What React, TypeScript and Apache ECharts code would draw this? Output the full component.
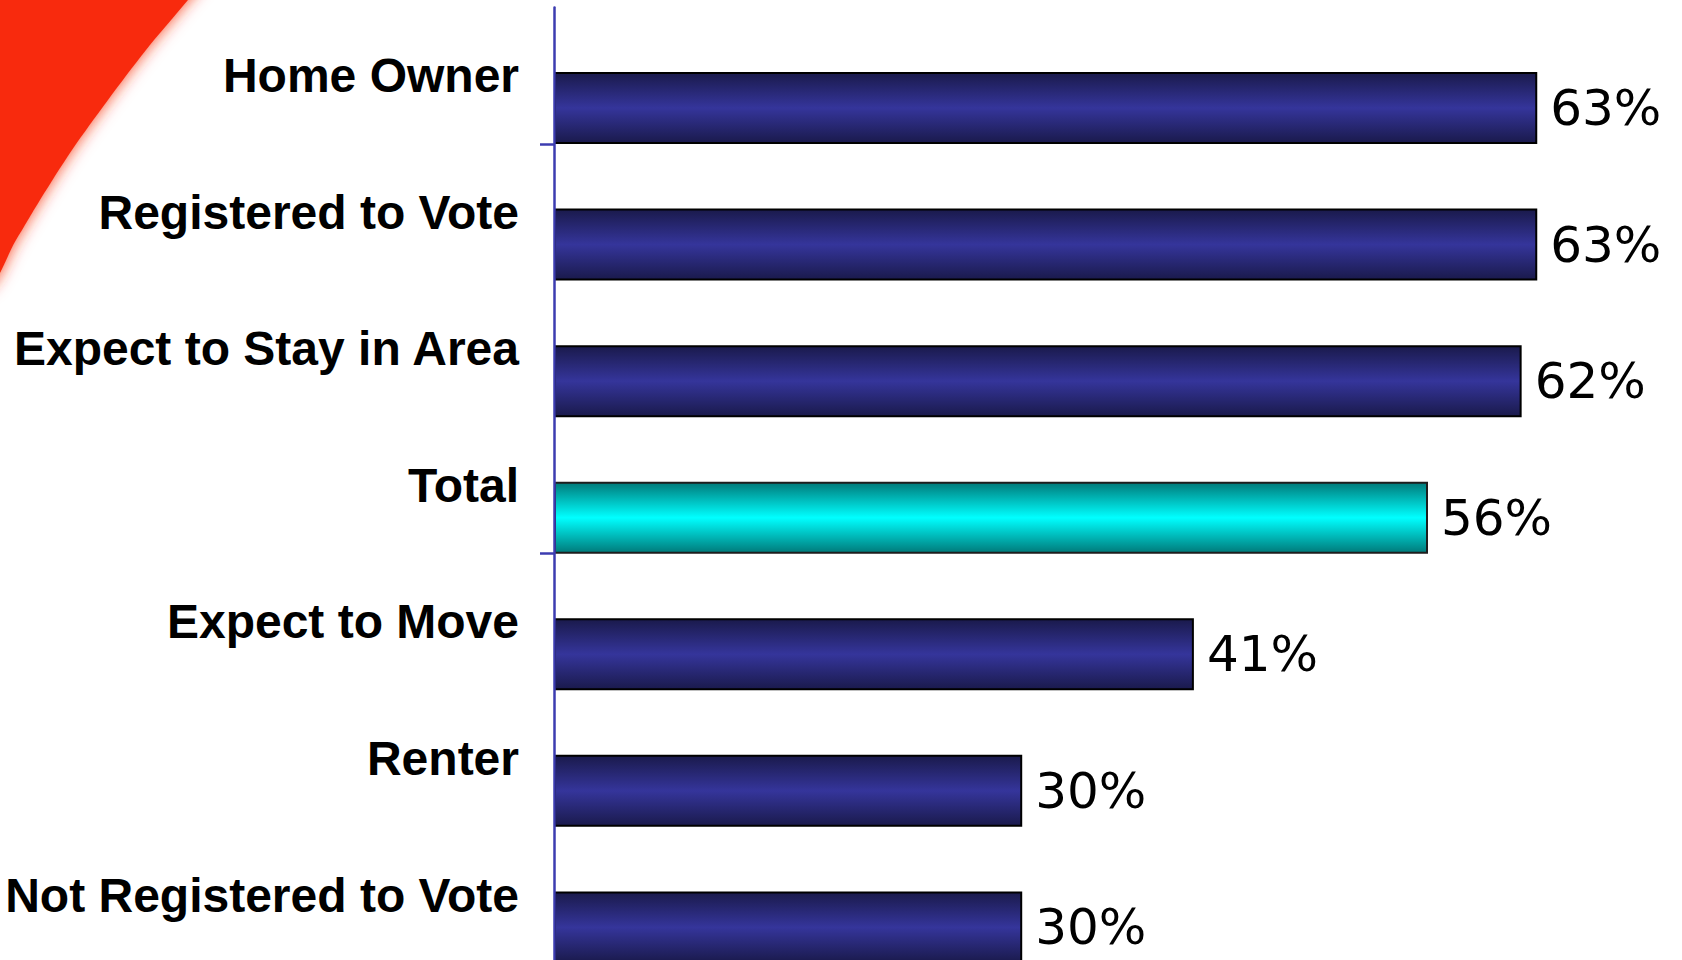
import React, { useEffect, useRef } from "react";
import * as echarts from "echarts";

const categories = [
  "Home Owner",
  "Registered to Vote",
  "Expect to Stay in Area",
  "Total",
  "Expect to Move",
  "Renter",
  "Not Registered to Vote",
];
const values = [63, 63, 62, 56, 41, 30, 30];
const highlightCategory = "Total";

const navyGradient = () =>
  new echarts.graphic.LinearGradient(0, 0, 0, 1, [
    { offset: 0, color: "#1a1a4c" },
    { offset: 0.5, color: "#35359b" },
    { offset: 1, color: "#1a1a4c" },
  ]);
const cyanGradient = () =>
  new echarts.graphic.LinearGradient(0, 0, 0, 1, [
    { offset: 0, color: "#007a7a" },
    { offset: 0.5, color: "#00ffff" },
    { offset: 1, color: "#007a7a" },
  ]);

export default function App() {
  const ref = useRef<HTMLDivElement>(null);
  useEffect(() => {
    if (!ref.current) return;
    const chart = echarts.init(ref.current, undefined, { renderer: "svg" });
    const axisLeft = 554;
    const gridTop = 7.4;
    const gridHeight = 956;
    const barShift = 32.3;
    const gridRight = 35.5;
    const option: any = {
      animation: false,
      backgroundColor: "#ffffff",
      graphic: [
        {
          type: "polygon",
          z: 0,
          shape: {
            points: [
              [-100, -100],
              [270, -100],
              [230, -50],
              [188, 0],
              [146, 50],
              [108, 100],
              [72, 150],
              [40, 200],
              [16, 240],
              [-15, 290],
              [-100, 290],
            ],
            smooth: 0.3,
          },
          style: {
            fill: "#f82a08",
            shadowBlur: 16,
            shadowColor: "rgba(248,42,8,0.85)",
          },
        },
      ],
      grid: [
        {
          left: axisLeft,
          right: gridRight,
          top: gridTop,
          height: gridHeight,
          outerBoundsMode: "none",
          containLabel: false,
        },
        {
          left: axisLeft,
          right: gridRight,
          top: gridTop + barShift,
          height: gridHeight,
          outerBoundsMode: "none",
          containLabel: false,
        },
      ],
      xAxis: [
        { type: "value", gridIndex: 0, min: 0, max: 70, show: false },
        { type: "value", gridIndex: 1, min: 0, max: 70, show: false },
      ],
      yAxis: [
        {
          type: "category",
          gridIndex: 0,
          inverse: true,
          data: categories,
          z: 5,
          axisLine: { show: true, lineStyle: { color: "#3c3cb0", width: 2.5 } },
          axisTick: {
            show: true,
            length: 14,
            interval: (index: number) => index % 3 === 1,
            lineStyle: { color: "#3c3cb0", width: 2.5 },
          },
          axisLabel: {
            margin: 35,
            fontSize: 48,
            fontWeight: "bold",
            fontFamily: "Liberation Sans, Arial, sans-serif",
            color: "#000000",
          },
          splitLine: { show: false },
        },
        {
          type: "category",
          gridIndex: 1,
          inverse: true,
          data: categories,
          show: false,
        },
      ],
      series: [
        {
          type: "bar",
          xAxisIndex: 1,
          yAxisIndex: 1,
          barWidth: 72,
          z: 3,
          data: values.map((v, i) => ({
            value: v,
            itemStyle:
              categories[i] === highlightCategory
                ? { color: cyanGradient(), borderColor: "#1e1e1e", borderWidth: 2 }
                : { color: navyGradient(), borderColor: "#000000", borderWidth: 2 },
          })),
          label: {
            show: true,
            position: "right",
            distance: 13,
            formatter: "{c}%",
            fontSize: 50,
            fontWeight: "normal",
            fontFamily: "DejaVu Sans, sans-serif",
            color: "#000000",
          },
        },
      ],
    };
    chart.setOption(option);
    return () => chart.dispose();
  }, []);
  return (
    <div
      ref={ref}
      style={{ position: "fixed", left: 0, top: 0, width: 1682, height: 960, background: "#fff" }}
    />
  );
}
